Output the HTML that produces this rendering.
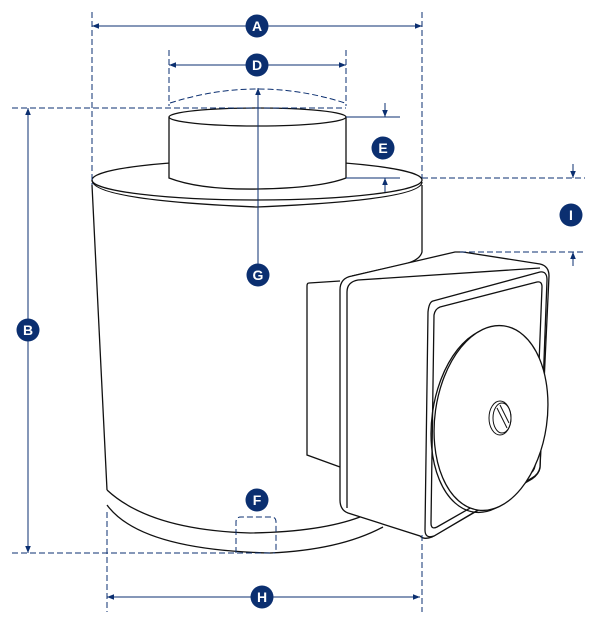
<!DOCTYPE html>
<html><head><style>html,body{margin:0;padding:0;background:#fff}svg{display:block}</style></head>
<body>
<svg width="600" height="628" viewBox="0 0 600 628" xmlns="http://www.w3.org/2000/svg" font-family="Liberation Sans, sans-serif">
<defs>
<marker id="ar" viewBox="0 0 10 10" refX="10" refY="5" markerWidth="11" markerHeight="7" orient="auto-start-reverse" markerUnits="userSpaceOnUse"><path d="M0,1 L10,5 L0,9 Z" fill="#0b2f70"/></marker>
</defs>
<g fill="none" stroke="#111" stroke-width="1.3">
<!-- body -->
<path d="M92,185 L107,490 M422,185 L422,252 Q420,260 405,264 L352,276"/>
<path d="M107,490 Q150,530 250,533 Q320,532 360,517"/>
<path d="M107,505 Q140,550 270,553 Q340,550 383,527"/>
<!-- top plate -->
<ellipse cx="257" cy="180" rx="165" ry="20" fill="#fff"/>
<path d="M92,180 Q92,200 257,207 Q422,200 422,182"/>
<!-- small cylinder -->
<path d="M169,117 L169,178 Q200,190 258,189 Q320,188 346,178 L346,117" fill="#fff"/>
<ellipse cx="257.5" cy="117" rx="88.5" ry="9" fill="#fff"/>
<!-- box back flange -->
<path d="M340,281 L309,283 Q307,283 307,286 L307,455 L340,467" fill="#fff"/>
<!-- box silhouette -->
<path d="M340,290 Q340,278 352,276 L455,252 L463,252 L540,264 Q549,266 549,276 L540,468 Q539,474 532,479 L432,537 Q424,540 420,536 L348,513 Q340,510 340,500 Z" fill="#fff"/>
<path d="M347,292 Q347,282 358,280 L540,268 M347,292 L347,508"/>
<!-- front face -->
<path d="M433,301 L540,272 Q547,271 547,280 L540,467 Q539,474 532,478 L434,536 Q425,539 425,530 L428,312 Q429,302 433,301 Z" fill="#fff"/>
<path d="M440,307 L537,282 Q542,281 542,287 L535,466 Q534,472 528,475 L437,527 Q431,530 431,523 L434,315 Q435,309 440,307 Z"/>
<!-- disk -->
<ellipse cx="487" cy="420" rx="55" ry="93" transform="rotate(8 487 420)"/>
<ellipse cx="491" cy="418" rx="56" ry="93" transform="rotate(8 491 418)" fill="#fff"/>
<ellipse cx="500" cy="418" rx="11" ry="17" stroke-width="1"/>
<ellipse cx="502" cy="418" rx="9" ry="15" stroke-width="1"/>
<path d="M497,408 L507,428 M500,405 L509,423" stroke-width="1"/>
</g>
<g stroke="#0b2f70" stroke-width="1" fill="none">
<g stroke-dasharray="6,3">
<path d="M92,12 L92,185 M422,12 L422,178 M422,535 L422,612 M107,512 L107,612 M169,50 L169,106 M346,50 L346,106"/>
<path d="M12,108 L346,108 M12,553 L275,553 M422,178 L585,178 M460,252 L585,252"/>
<path d="M170,103 Q258,75 345,103"/>
<path d="M236,553 L236,522 Q236,517 241,517 L271,517 Q276,517 276,522 L276,553"/>
</g>
<path d="M92,26 L422,26" marker-start="url(#ar)" marker-end="url(#ar)"/>
<path d="M169,65 L346,65" marker-start="url(#ar)" marker-end="url(#ar)"/>
<path d="M107,597 L420,597" marker-start="url(#ar)" marker-end="url(#ar)"/>
<path d="M28,108 L28,553" marker-start="url(#ar)" marker-end="url(#ar)"/>
<path d="M258,275 L258,88" marker-end="url(#ar)"/>
<path d="M346,117 L400,117 M346,178 L400,178"/>
<path d="M385,103 L385,117" marker-end="url(#ar)"/>
<path d="M385,192 L385,178" marker-end="url(#ar)"/>
<path d="M573,164 L573,178" marker-end="url(#ar)"/>
<path d="M573,266 L573,252" marker-end="url(#ar)"/>
</g>
<g font-weight="bold" font-size="14" text-anchor="middle" fill="#fff">
<g fill="#0b2f70"><circle cx="257" cy="26" r="11.5"/><circle cx="257" cy="65" r="11.5"/><circle cx="383" cy="148" r="11.5"/><circle cx="258" cy="275" r="11.5"/><circle cx="571" cy="215" r="11.5"/><circle cx="28" cy="330" r="11.5"/><circle cx="257" cy="500" r="11.5"/><circle cx="262" cy="597" r="11.5"/></g>
<text x="257" y="31">A</text><text x="257" y="70">D</text><text x="383" y="153">E</text><text x="258" y="280">G</text><text x="571" y="220">I</text><text x="28" y="335">B</text><text x="257" y="505">F</text><text x="262" y="602">H</text>
</g>
</svg>
</body></html>
